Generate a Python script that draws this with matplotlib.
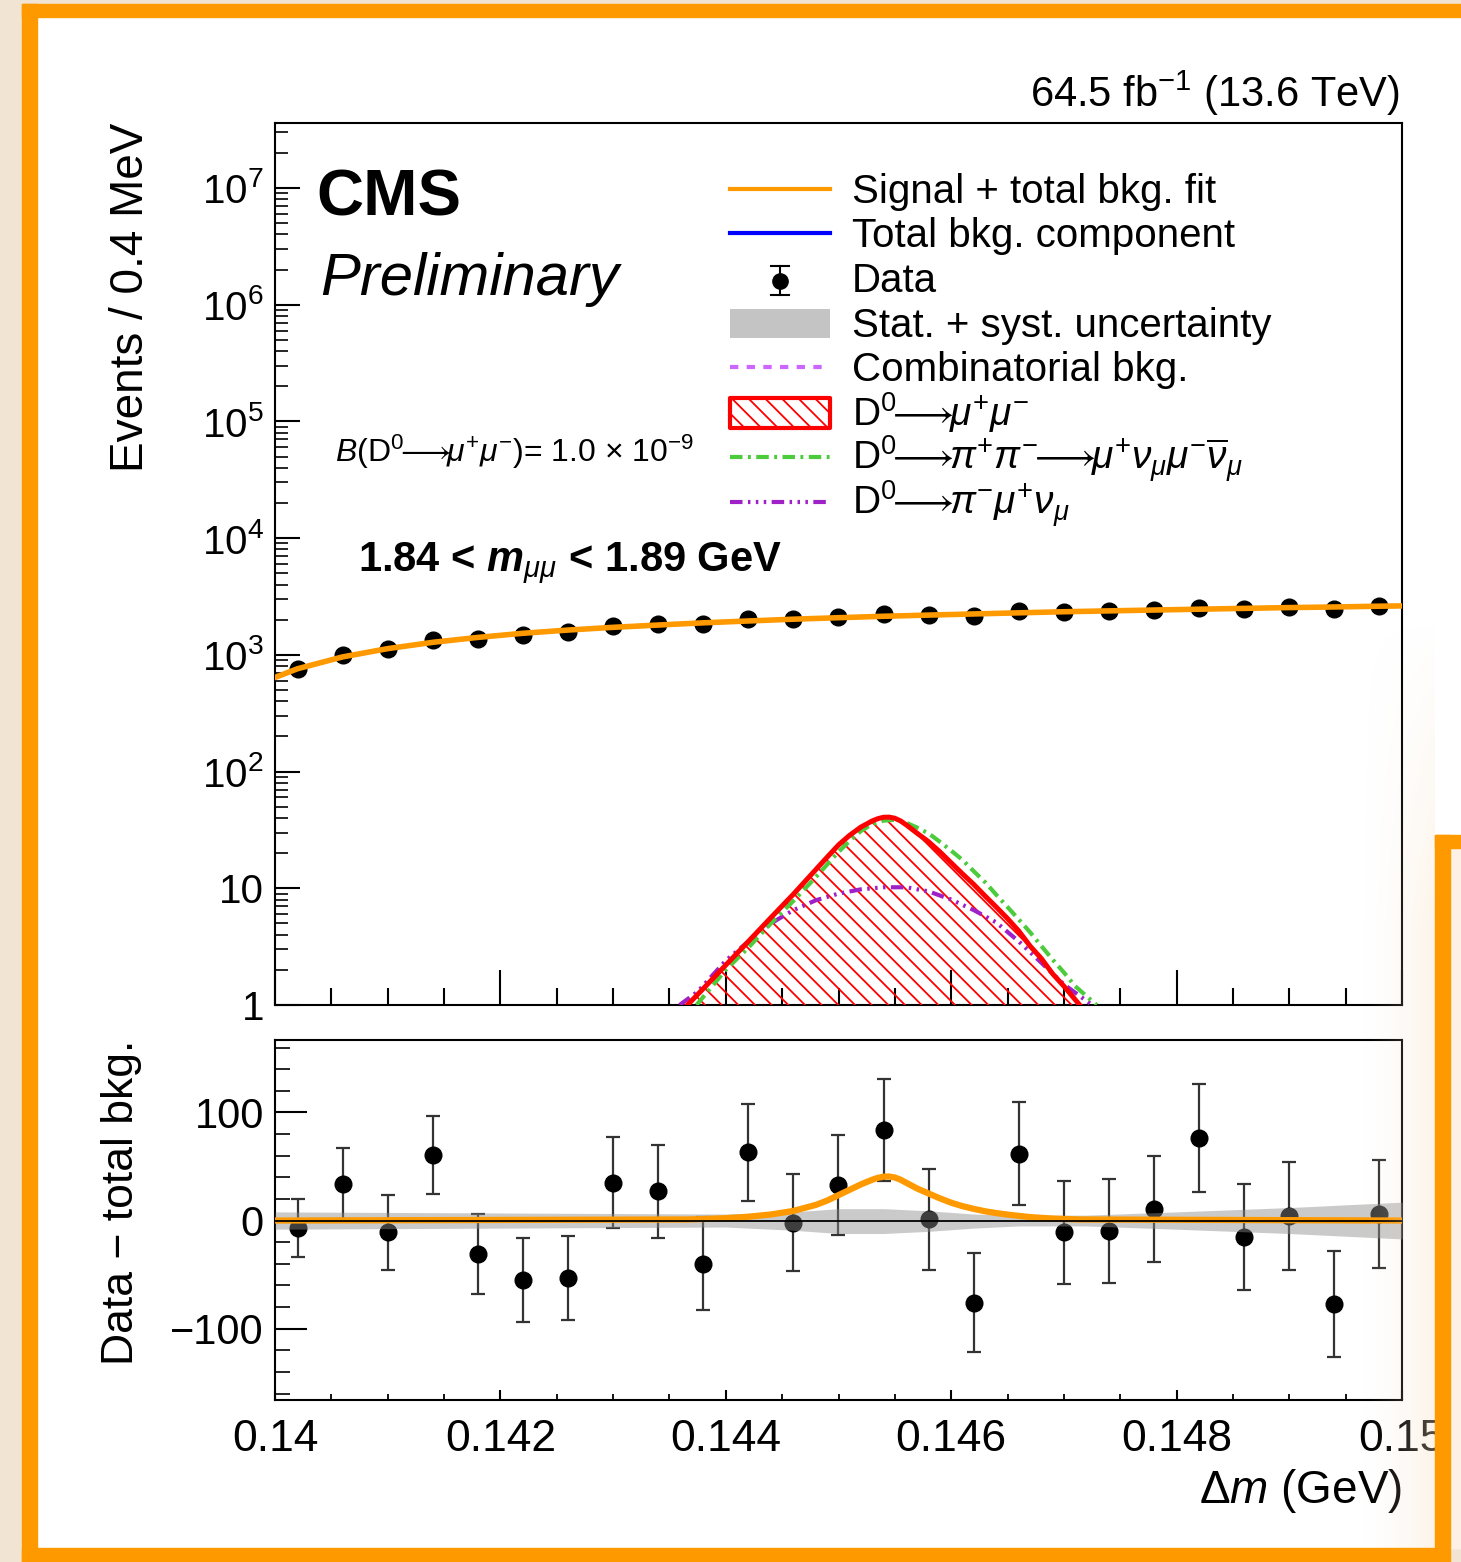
import numpy as np
import matplotlib
matplotlib.use('Agg')
import matplotlib.pyplot as plt
from matplotlib.patches import Rectangle
from matplotlib.ticker import LogLocator, MultipleLocator, FuncFormatter

plt.rcParams['font.family'] = ['Liberation Sans', 'DejaVu Sans']
plt.rcParams['mathtext.fontset'] = 'custom'
plt.rcParams['mathtext.rm'] = 'Liberation Sans'
plt.rcParams['mathtext.it'] = 'Liberation Sans:italic'
plt.rcParams['mathtext.bf'] = 'Liberation Sans:bold:italic'
plt.rcParams['mathtext.fallback'] = 'stixsans'
plt.rcParams['hatch.linewidth'] = 1.3

# ---- data ----
bin_centers = [0.1402, 0.1406, 0.1410, 0.1414, 0.1418, 0.1422, 0.1426, 0.1430, 0.1434,
               0.1438, 0.1442, 0.1446, 0.1450, 0.1454, 0.1458, 0.1462, 0.1466, 0.1470,
               0.1474, 0.1478, 0.1482, 0.1486, 0.1490, 0.1494, 0.1498]
data_counts = [753, 994, 1119, 1341, 1379, 1475, 1577, 1755, 1827, 1840, 2013, 2018, 2113,
               2224, 2191, 2164, 2352, 2329, 2370, 2431, 2536, 2485, 2544, 2493, 2616]
data_err = [27, 33, 35, 36, 37, 39, 39, 42, 43, 43, 45, 45, 46, 47, 47, 46, 48, 48, 48,
            49, 50, 49, 50, 49, 50]
resid = [-7, 34, -11, 61, -31, -55, -53, 35, 27, -40, 63, -2, 33, 84, 1, -76, 62, -11,
         -10, 11, 76, -15, 4, -77, 6]

# total background fit
bkg_x = [0.1400, 0.1402, 0.1406, 0.1410, 0.1414, 0.1418, 0.1422, 0.1426, 0.1430, 0.1434,
         0.1438, 0.1442, 0.1446, 0.1450, 0.1454, 0.1458, 0.1462, 0.1466, 0.1470, 0.1474,
         0.1478, 0.1482, 0.1486, 0.1490, 0.1494, 0.1498, 0.1500]
bkg_y = [640, 760, 960, 1130, 1280, 1410, 1530, 1630, 1720, 1800, 1880, 1950, 2020, 2080,
         2140, 2190, 2240, 2290, 2340, 2380, 2420, 2460, 2500, 2540, 2570, 2610, 2625]

# D0 -> mu mu signal shape
sig_x = [0.1400, 0.14366, 0.1438, 0.1440, 0.1442, 0.1444, 0.1446, 0.1448, 0.1449, 0.1450,
         0.1451, 0.1452, 0.1453, 0.14535, 0.1454, 0.14545, 0.1455, 0.14555, 0.1456, 0.1457,
         0.1458, 0.1459, 0.1460, 0.1461, 0.1462, 0.1463, 0.1464, 0.1465, 0.1466, 0.1467,
         0.1468, 0.1469, 0.1470, 0.14714, 0.1500]
sig_y = [0, 1.0, 1.38, 2.2, 3.5, 5.6, 8.9, 14.5, 18.5, 23.5, 28.5, 33.5, 37.8, 39.5, 40.6,
         40.7, 39.8, 37.8, 35.0, 29.5, 25.0, 20.5, 16.5, 13.3, 10.8, 8.6, 6.9, 5.5, 4.3, 3.2,
         2.5, 1.85, 1.45, 1.0, 0]

# D0 -> pi pi -> mu nu mu nu
pipi_x = [0.14374, 0.1440, 0.1442, 0.1444, 0.1446, 0.1448, 0.1450, 0.1451, 0.1452, 0.1453,
          0.1454, 0.1455, 0.1456, 0.1457, 0.1458, 0.1459, 0.1460, 0.1461, 0.1462, 0.1463,
          0.1464, 0.1465, 0.1466, 0.1467, 0.1468, 0.1469, 0.1470, 0.1471, 0.14729]
pipi_y = [1.0, 2.0, 3.1, 5.0, 7.8, 12.5, 20.5, 25.5, 31.0, 35.5, 38.0, 38.6, 36.5, 33.0,
          29.5, 25.0, 21.0, 17.5, 14.0, 11.3, 8.8, 6.9, 5.4, 4.2, 3.2, 2.45, 1.9, 1.45, 1.0]

# D0 -> pi mu nu
pimu_x = [0.14359, 0.14375, 0.1440, 0.1442, 0.1444, 0.1446, 0.1448, 0.1450, 0.1452, 0.1454,
          0.1456, 0.1458, 0.1460, 0.1462, 0.1464, 0.1466, 0.1468, 0.1470, 0.14725]
pimu_y = [1.0, 1.3, 2.4, 3.5, 5.0, 6.5, 7.9, 9.0, 9.8, 10.2, 10.2, 9.4, 8.0, 6.5, 5.1, 3.5,
          2.3, 1.5, 1.0]

# stat + syst band in the lower panel
band_x = [0.1400, 0.1420, 0.1440, 0.1446, 0.1450, 0.1454, 0.1458, 0.1462, 0.1466, 0.1472,
          0.1480, 0.1490, 0.1500]
band_hi = [8, 7, 6, 8, 11, 11, 9, 6, 5, 5, 8, 12, 17]
band_lo = [-8, -7, -6, -9, -12, -12, -10, -7, -5, -5, -8, -12, -17]

xticks_major = [0.140, 0.142, 0.144, 0.146, 0.148, 0.150]
xtick_labels = ['0.14', '0.142', '0.144', '0.146', '0.148', '0.15']

ORANGE = '#ff9900'
W, H = 1461, 1562


def fx(px):
    return px / W


def fy(py):
    return 1 - py / H


fig = plt.figure(figsize=(W / 100, H / 100), dpi=100, facecolor='#f1e4d2')

# slide background / frames
fig.patches.append(Rectangle((fx(37), fy(1548)), fx(1461) - fx(37), fy(17) - fy(1548),
                             transform=fig.transFigure, color='white', zorder=-5))
fig.patches.append(Rectangle((fx(1450), fy(1548)), fx(1461) - fx(1450), fy(848) - fy(1548),
                             transform=fig.transFigure, color='#fcf1e4', zorder=-4))
frame = [(22, 4, 1461, 17), (22, 4, 37, 1562), (22, 1548, 1448, 1562),
         (1435, 835, 1450, 1562), (1435, 835, 1461, 848)]
for x0, y0, x1, y1 in frame:
    fig.patches.append(Rectangle((fx(x0), fy(y1)), fx(x1) - fx(x0), fy(y0) - fy(y1),
                                 transform=fig.transFigure, color=ORANGE, zorder=20))

ax1 = fig.add_axes([fx(275), fy(1005), fx(1402) - fx(275), fy(123) - fy(1005)])
ax2 = fig.add_axes([fx(275), fy(1400), fx(1402) - fx(275), fy(1040) - fy(1400)])

# warm fade of the slide at the right edge
gax = fig.add_axes([fx(1360), fy(1548), fx(1435) - fx(1360), fy(620) - fy(1548)])
gx = np.linspace(0, 1, 60)[None, :]
gy = np.clip(np.linspace(0, 1, 200)[:, None] * 3, 0, 1)
fade = np.zeros((200, 60, 4))
fade[..., 0], fade[..., 1], fade[..., 2] = 0.97, 0.88, 0.76
fade[..., 3] = 0.35 * gx ** 1.5 * gy
gax.imshow(fade, aspect='auto', extent=(0, 1, 1, 0))
gax.axis('off')
gax.set_zorder(5)

# ===== upper panel =====
ax1.set_yscale('log')
ax1.errorbar(bin_centers, data_counts, yerr=np.sqrt(data_counts), fmt='o', color='black',
             ms=12, elinewidth=1.5, capsize=0, zorder=3)
ax1.plot(bkg_x, bkg_y, color='#cc66ff', lw=3, dashes=(2, 2), zorder=4)
ax1.plot(bkg_x, bkg_y, color='#0000ff', lw=2.5, zorder=5)
ax1.plot(bkg_x, bkg_y, color=ORANGE, lw=4, zorder=6)

sx = np.array(sig_x)
sy = np.array(sig_y, dtype=float)
m = sy > 0
ax1.fill_between(sx[m], sy[m], 1e-2, facecolor='none', edgecolor='red', linewidth=0,
                 hatch='\\\\', zorder=3)
ax1.plot(pimu_x, pimu_y, color='#a020c8', lw=3,
         dashes=(3, 1.3, 0.6, 1.3, 0.6, 1.3, 0.6, 1.3), zorder=4)
ax1.plot(pipi_x, pipi_y, color='#4ccc3c', lw=3, dashes=(3, 1.3, 0.7, 1.3), zorder=4)
ax1.plot(sx[m], sy[m], color='red', lw=3.6, zorder=5)

ax1.set_xlim(0.14, 0.15)
ax1.set_ylim(1, 3.6e7)
ax1.yaxis.set_major_locator(LogLocator(base=10, numticks=20))
ax1.yaxis.set_minor_locator(LogLocator(base=10, subs=np.arange(2, 10), numticks=20))


def log_fmt(v, pos):
    n = int(round(np.log10(v)))
    if n == 0:
        return '1'
    if n == 1:
        return '10'
    return r'$10^{%d}$' % n


ax1.yaxis.set_major_formatter(FuncFormatter(log_fmt))
ax1.set_xticks(xticks_major)
ax1.xaxis.set_minor_locator(MultipleLocator(0.0005))
ax1.tick_params(axis='x', which='major', direction='in', length=25, width=1.5, labelbottom=False)
ax1.tick_params(axis='x', which='minor', direction='in', length=12, width=1.5)
ax1.tick_params(axis='y', which='major', direction='in', length=18, width=1.5, labelsize=29, pad=8)
ax1.tick_params(axis='y', which='minor', direction='in', length=9, width=1.2)
for s in ax1.spines.values():
    s.set_linewidth(1.5)

ax1.set_ylabel('Events / 0.4 MeV', fontsize=33, loc='top')
ax1.yaxis.set_label_coords(-0.108, 1.0)

T = ax1.transAxes


def ax_xy(px, py):
    return (px - 275) / 1127, 1 - (py - 123) / 882


AR = r'\!\!\longrightarrow\!\!'
ax1.text(*ax_xy(1400, 107), r'64.5 fb$^{-1}$ (13.6 TeV)', transform=T, fontsize=30,
         ha='right', va='baseline')
ax1.text(*ax_xy(316, 215), 'CMS', transform=T, fontsize=47, fontweight='bold', va='baseline')
ax1.text(*ax_xy(320, 295), 'Preliminary', transform=T, fontsize=43, style='italic',
         va='baseline')
ax1.text(*ax_xy(335, 462), r'$B(\mathrm{D}^{0}' + AR + r'\mu^{+}\mu^{-})$= 1.0 × 10$^{-9}$',
         transform=T, fontsize=23, va='baseline')
ax1.text(*ax_xy(358, 572), r'1.84 < $\mathbf{m}_{\mu\mu}$ < 1.89 GeV', transform=T,
         fontsize=30, fontweight='bold', va='baseline')

# legend, drawn entry by entry (ROOT-like even spacing)
rows = [189, 233, 278, 323, 367, 412, 457, 502]
labels = ['Signal + total bkg. fit', 'Total bkg. component', 'Data',
          'Stat. + syst. uncertainty', 'Combinatorial bkg.',
          r'$\mathrm{D}^{0}' + AR + r'\mu^{+}\mu^{-}$',
          r'$\mathrm{D}^{0}' + AR + r'\pi^{+}\pi^{-}' + AR
          + r'\mu^{+}\nu_{\mu}\mu^{-}\overline{\nu}_{\mu}$',
          r'$\mathrm{D}^{0}' + AR + r'\pi^{-}\mu^{+}\nu_{\mu}$']
hx0, hx1 = ax_xy(730, 0)[0], ax_xy(830, 0)[0]
for r, lab in zip(rows, labels):
    ax1.text(ax_xy(852, 0)[0], ax_xy(0, r + 14)[1], lab, transform=T,
             fontsize=28 if lab.startswith('$') else 29, va='baseline')


def hline(r, **kw):
    y = ax_xy(0, r)[1]
    ax1.plot([hx0, hx1], [y, y], transform=T, clip_on=False, **kw)


hline(rows[0], color=ORANGE, lw=3)
hline(rows[1], color='#0000ff', lw=3)
xm = ax_xy(780, 0)[0]
ax1.plot([xm], [ax_xy(0, rows[2] + 3)[1]], 'o', color='black', ms=11, transform=T, clip_on=False)
ax1.plot([xm, xm], [ax_xy(0, rows[2] - 12)[1], ax_xy(0, rows[2] + 17)[1]], color='black',
         lw=1.5, transform=T, clip_on=False)
for yy in (rows[2] - 12, rows[2] + 17):
    ax1.plot([ax_xy(771, 0)[0], ax_xy(789, 0)[0]], [ax_xy(0, yy)[1]] * 2, color='black',
             lw=1.5, transform=T, clip_on=False)
ax1.add_patch(Rectangle((hx0, ax_xy(0, 338)[1]), hx1 - hx0, ax_xy(0, 309)[1] - ax_xy(0, 338)[1],
                        transform=T, facecolor='#c4c4c4', edgecolor='none', clip_on=False))
hline(rows[4], color='#cc66ff', lw=3, dashes=(2, 2))
ax1.add_patch(Rectangle((hx0, ax_xy(0, 428)[1]), hx1 - hx0, ax_xy(0, 398)[1] - ax_xy(0, 428)[1],
                        transform=T, facecolor='white', edgecolor='red', lw=3, hatch='\\\\',
                        joinstyle='round', clip_on=False))
hline(rows[6], color='#4ccc3c', lw=3, dashes=(3, 1.3, 0.7, 1.3))
hline(rows[7], color='#a020c8', lw=3, dashes=(3, 1.3, 0.6, 1.3, 0.6, 1.3, 0.6, 1.3))

# ===== lower panel =====
ax2.errorbar(bin_centers, resid, yerr=data_err, fmt='o', color='black', ms=12,
             ecolor='#333333', elinewidth=1.6, capsize=5, capthick=1.6, zorder=2)
ax2.fill_between(band_x, band_lo, band_hi, color='#8a8a8a', alpha=0.45, linewidth=0, zorder=3)
ax2.plot(sig_x, sig_y, color=ORANGE, lw=4.5, zorder=4)
ax2.axhline(0, color='black', lw=1.3, zorder=5)

ax2.set_xlim(0.14, 0.15)
ax2.set_ylim(-166, 167)
ax2.set_xticks(xticks_major)
ax2.set_xticklabels(xtick_labels)
ax2.xaxis.set_minor_locator(MultipleLocator(0.0005))
ax2.set_yticks([-100, 0, 100])
ax2.yaxis.set_minor_locator(MultipleLocator(20))
ax2.tick_params(axis='x', which='major', direction='in', length=7, width=1.5, labelsize=32, pad=14)
ax2.tick_params(axis='x', which='minor', direction='in', length=4, width=1.3)
ax2.tick_params(axis='y', which='major', direction='in', length=23, width=1.5, labelsize=30, pad=8)
ax2.tick_params(axis='y', which='minor', direction='in', length=11, width=1.2)
for s in ax2.spines.values():
    s.set_linewidth(1.5)

ax2.set_ylabel('Data − total bkg.', fontsize=32, loc='top')
ax2.yaxis.set_label_coords(-0.118, 1.0)
ax2.set_xlabel(r'$\Delta m$ (GeV)', fontsize=33, loc='right')
ax2.xaxis.set_label_coords(1.0, -0.185)

fig.savefig('out.png', dpi=100, facecolor=fig.get_facecolor())
